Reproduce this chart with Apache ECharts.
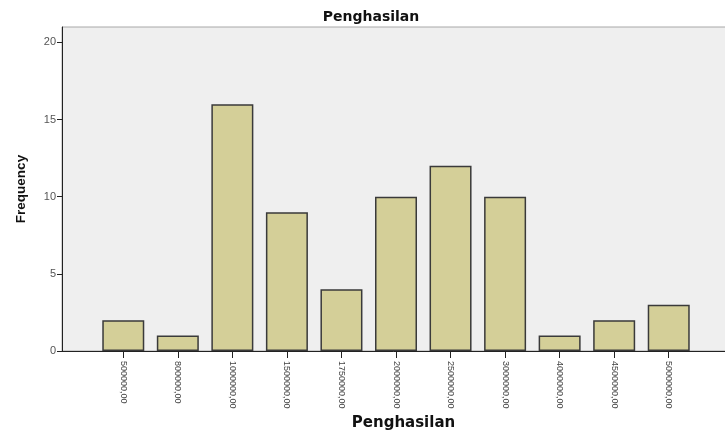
<!DOCTYPE html>
<html>
<head>
<meta charset="utf-8">
<script src="https://cdn.jsdelivr.net/npm/echarts@6/dist/echarts.min.js"></script>
<style>
    html, body { margin: 0; padding: 0; background: #fff; }
    #main { width: 725px; height: 432px; }
</style>
</head>
<body>
<div id="main"></div>
<script>
// kategori penghasilan dan frekuensinya
var categories = ['500000,00', '800000,00', '1000000,00', '1500000,00', '1750000,00', '2000000,00',
    '2500000,00', '3000000,00', '4000000,00', '4500000,00', '5000000,00'];
var frequency = [2, 1, 16, 9, 4, 10, 12, 10, 1, 2, 3];
var yTicks = [0, 5, 10, 15, 20];

var chart = echarts.init(document.getElementById('main'));
var font = 'Liberation Sans, Arial, sans-serif';
var wideFont = 'DejaVu Sans, sans-serif';
var option = {
    animation: false,
    title: {
        text: 'Penghasilan',
        left: 366,
        top: 5,
        textAlign: 'center',
        textStyle: { fontFamily: wideFont, fontSize: 14, fontWeight: 'bold', color: '#111' }
    },
    grid: [
        // kotak latar belakang + sumbu y
        { left: 62, right: -2, top: 27, bottom: 81, outerBoundsMode: 'none', show: true, backgroundColor: '#efefef', borderColor: '#a8a8a8', borderWidth: 1 },
        // area batang (ada jarak di kiri dan kanan)
        { left: 96, right: 29, top: 27, bottom: 81, outerBoundsMode: 'none' }
    ],
    xAxis: [
        {
            gridIndex: 0,
            type: 'value',
            min: 0,
            max: 1,
            axisLine: { show: true, onZero: false, lineStyle: { color: '#222', width: 1 } },
            axisTick: { show: false },
            axisLabel: { show: false },
            splitLine: { show: false },
            name: 'Penghasilan',
            nameLocation: 'middle',
            nameGap: 65,
            nameTextStyle: { fontFamily: wideFont, fontSize: 15, fontWeight: 'bold', color: '#111', padding: [0, 0, 0, 18] }
        },
        {
            gridIndex: 1,
            type: 'category',
            data: categories,
            axisLine: { show: false },
            axisTick: { show: true, alignWithLabel: true, length: 7, lineStyle: { color: '#222' } },
            axisLabel: { rotate: -90, fontFamily: font, fontSize: 9, color: '#444', margin: 10, interval: 0 },
            splitLine: { show: false }
        }
    ],
    yAxis: [
        {
            gridIndex: 0,
            type: 'value',
            min: 0,
            max: 21,
            axisLine: { show: true, lineStyle: { color: '#222', width: 1 } },
            axisTick: { show: true, length: 5, customValues: yTicks, lineStyle: { color: '#222' } },
            axisLabel: { customValues: yTicks, fontFamily: font, fontSize: 11, color: '#555', margin: 6 },
            splitLine: { show: false },
            name: 'Frequency',
            nameLocation: 'middle',
            nameGap: 34,
            nameTextStyle: { fontFamily: font, fontSize: 13.5, fontWeight: 'bold', color: '#111' }
        },
        {
            gridIndex: 1,
            type: 'value',
            min: 0,
            max: 21,
            show: false
        }
    ],
    series: [
        {
            type: 'bar',
            xAxisIndex: 1,
            yAxisIndex: 1,
            data: frequency,
            barWidth: 42,
            itemStyle: { color: '#d4cf98', borderColor: '#3a3a3a', borderWidth: 1.5 }
        }
    ]
};
chart.setOption(option);
</script>
</body>
</html>
